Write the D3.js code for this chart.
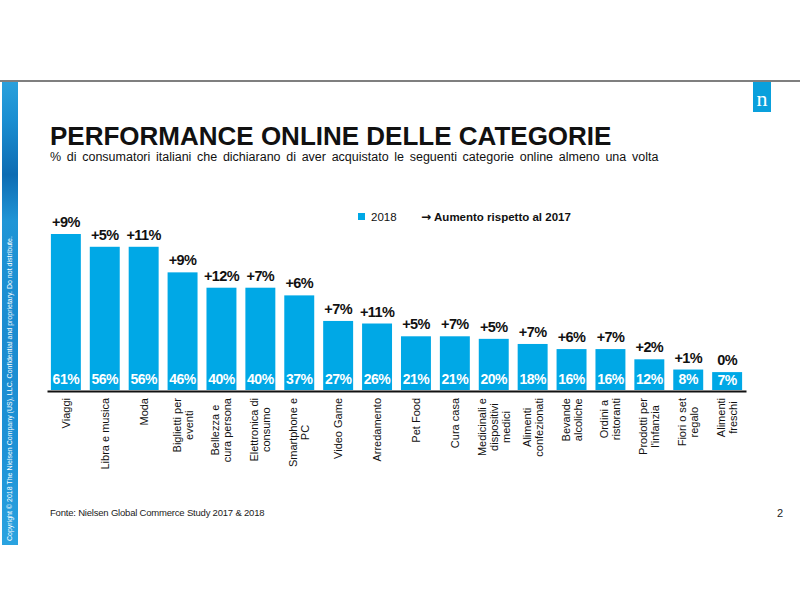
<!DOCTYPE html>
<html><head><meta charset="utf-8">
<script src="https://cdn.jsdelivr.net/npm/d3@7"></script>
<style>body{margin:0;background:#fff}svg{display:block;font-family:"Liberation Sans",Arial,sans-serif}</style>
</head><body>
<svg id="c" width="800" height="600"></svg>
<script>
const categories = ["Viaggi","Libra e musica","Moda","Biglietti per\neventi","Bellezza e\ncura persona","Elettronica di\nconsumo","Smartphone e\nPC","Video Game","Arredamento","Pet Food","Cura casa","Medicinali e\ndispositivi\nmedici","Alimenti\nconfezionati","Bevande\nalcoliche","Ordini a\nristoranti","Prodotti per\nl'infanzia","Fiori o set\nregalo","Alimenti\nfreschi"];
const values2018 = [61,56,56,46,40,40,37,27,26,21,21,20,18,16,16,12,8,7];
const increase = ["+9%","+5%","+11%","+9%","+12%","+7%","+6%","+7%","+11%","+5%","+7%","+5%","+7%","+6%","+7%","+2%","+1%","0%"];

const svg = d3.select("#c");
const blue = "#00a8e6";

// top rule
svg.append("line").attr("x1",0).attr("x2",800).attr("y1",81).attr("y2",81).attr("stroke","#555").attr("stroke-width",1.5);

// left strip
const defs = svg.append("defs");
const g1 = defs.append("linearGradient").attr("id","strip").attr("x1",0).attr("x2",0).attr("y1",0).attr("y2",1);
[[0,"#2aa0dc"],[0.08,"#1b8fd2"],[0.2,"#0e6cb3"],[0.3,"#1f95d6"],[0.55,"#1a8bd0"],[0.8,"#1d92d6"],[1,"#2aa3e0"]].forEach(s=>g1.append("stop").attr("offset",s[0]).attr("stop-color",s[1]));
svg.append("rect").attr("x",2).attr("y",82).attr("width",16).attr("height",463).attr("fill","url(#strip)");
svg.append("text").attr("transform","translate(12,541) rotate(-90)").attr("font-size",7).attr("fill","#fff")
  .text("Copyright © 2018 The Nielsen Company (US), LLC. Confidential and proprietary. Do not distribute.");

// logo
svg.append("rect").attr("x",753).attr("y",82).attr("width",18).attr("height",30).attr("fill","#0aa0dc");
svg.append("text").attr("x",762).attr("y",106).attr("text-anchor","middle").attr("fill","#fff")
  .attr("font-family","'Liberation Serif',serif").attr("font-size",22).text("n");

// titles
svg.append("text").attr("x",50).attr("y",145).attr("font-size",26).attr("font-weight","bold").attr("fill","#111")
  .text("PERFORMANCE ONLINE DELLE CATEGORIE");
svg.append("text").attr("x",50).attr("y",161).attr("font-size",12.5).attr("fill","#111").attr("word-spacing",2.2)
  .text("% di consumatori italiani che dichiarano di aver acquistato le seguenti categorie online almeno una volta");

// legend
svg.append("rect").attr("x",358).attr("y",213).attr("width",7).attr("height",7).attr("fill",blue);
svg.append("text").attr("x",371).attr("y",221).attr("font-size",11.5).attr("fill","#111").text("2018");
const lg = svg.append("text").attr("x",421).attr("y",221).attr("font-size",11.5).attr("font-weight","bold").attr("fill","#111");
lg.append("tspan").attr("font-family","'DejaVu Sans',sans-serif").attr("font-size",12).text("→");
lg.append("tspan").attr("dx",3).text("Aumento rispetto al 2017");

// scales
const x = d3.scaleBand().domain(categories).range([47,746]).paddingInner(0.23).paddingOuter(0.1);
const y = d3.scaleLinear().domain([0,61]).range([390,234]);

const bars = svg.append("g");
bars.selectAll("rect").data(values2018).join("rect")
  .attr("x",(d,i)=>x(categories[i])).attr("width",x.bandwidth())
  .attr("y",d=>y(d)).attr("height",d=>y(0)-y(d)).attr("fill",blue);

bars.selectAll("text.in").data(values2018).join("text").attr("class","in")
  .attr("x",(d,i)=>x(categories[i])+x.bandwidth()/2).attr("y",d=>Math.max(384, y(d)+13))
  .attr("text-anchor","middle").attr("font-size",14).attr("font-weight","bold").attr("fill","#fff")
  .attr("letter-spacing",-0.5).text(d=>d+"%");

bars.selectAll("text.up").data(values2018).join("text").attr("class","up")
  .attr("x",(d,i)=>x(categories[i])+x.bandwidth()/2).attr("y",d=>y(d)-7)
  .attr("text-anchor","middle").attr("font-size",14.5).attr("font-weight","bold").attr("fill","#111")
  .attr("letter-spacing",-0.6).text((d,i)=>increase[i]);

// axis
const axis = d3.axisBottom(x).tickSize(0).tickFormat("");
const ax = svg.append("g").attr("transform","translate(0,391)").call(axis);
ax.select(".domain").attr("stroke","#111").attr("stroke-width",2.2);

// x labels rotated, multi-line centered
const lab = svg.append("g");
categories.forEach((c,i)=>{
  const lines = c.split("\n");
  const cx = x(c)+x.bandwidth()/2;
  const lh = 12;
  const g = lab.append("g");
  const texts = lines.map((l,j)=>g.append("text").attr("font-size",11).attr("fill","#111").attr("text-anchor","middle").text(l));
  const maxLen = d3.max(texts,t=>t.node().getComputedTextLength());
  const cy = 398 + maxLen/2;
  texts.forEach((t,j)=>{
    const off = (j-(lines.length-1)/2)*lh + 4;
    t.attr("transform",`translate(${cx+off},${cy}) rotate(-90)`);
  });
});

// footer
svg.append("text").attr("x",50).attr("y",516).attr("font-size",9.5).attr("fill","#222")
  .attr("letter-spacing",-0.2).text("Fonte: Nielsen Global Commerce Study 2017 & 2018");
svg.append("text").attr("x",783).attr("y",517).attr("text-anchor","end").attr("font-size",11).attr("fill","#222").text("2");
</script>
</body></html>
